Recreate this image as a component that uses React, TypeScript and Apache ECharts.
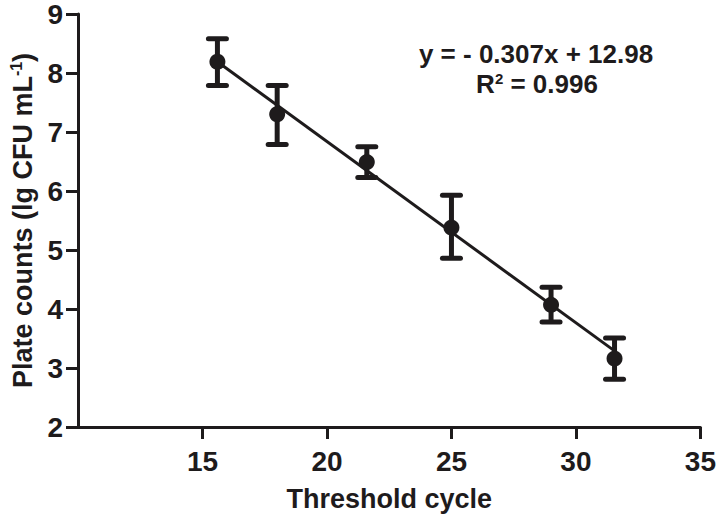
import React, { useEffect, useRef } from "react";
import * as echarts from "echarts";

const xValues = [15.6, 18.0, 21.6, 25.0, 29.0, 31.55];
const yValues = [8.19, 7.3, 6.49, 5.38, 4.07, 3.16];
const errUpper = [8.58, 7.79, 6.75, 5.93, 4.37, 3.51];
const errLower = [7.79, 6.79, 6.23, 4.86, 3.78, 2.81];
const fitX = [15.6, 31.55];
const fitY = [8.19, 3.29];
const xTicks = [15, 20, 25, 30, 35];
const yTicks = [2, 3, 4, 5, 6, 7, 8, 9];
const equationText = "y = - 0.307x + 12.98";
const r2Value = "0.996";

const INK = "#1e1b1c";
const FONT = "Liberation Sans, Arial, sans-serif";

export default function App() {
  const ref = useRef<HTMLDivElement>(null);
  useEffect(() => {
    if (!ref.current) return;
    const chart = echarts.init(ref.current, null, { renderer: "svg" });
    const points = xValues.map((x, i) => [x, yValues[i]]);
    const bars = xValues.map((x, i) => [x, errLower[i], errUpper[i]]);
    const fit = fitX.map((x, i) => [x, fitY[i]]);
    chart.setOption({
      animation: false,
      backgroundColor: "#ffffff",
      grid: { left: 77, right: 16, top: 12, bottom: 88 },
      xAxis: {
        type: "value",
        min: 10,
        max: 35,
        interval: 5,
        splitLine: { show: false },
        axisLine: { lineStyle: { color: INK, width: 3 } },
        axisTick: { show: true, length: 12, lineStyle: { color: INK, width: 3 }, customValues: xTicks },
        axisLabel: {
          customValues: xTicks,
          margin: 20,
          color: INK,
          fontSize: 28,
          fontWeight: "bold",
          fontFamily: FONT,
        },
        name: "Threshold cycle",
        nameLocation: "middle",
        nameGap: 58,
        nameTextStyle: { color: INK, fontSize: 27, fontWeight: "bold", fontFamily: FONT },
      },
      yAxis: {
        type: "value",
        min: 2,
        max: 9,
        interval: 1,
        splitLine: { show: false },
        axisLine: { show: true, lineStyle: { color: INK, width: 3 } },
        axisTick: { show: true, length: 12, lineStyle: { color: INK, width: 3 }, customValues: yTicks },
        axisLabel: {
          customValues: yTicks,
          margin: 15,
          color: INK,
          fontSize: 28,
          fontWeight: "bold",
          fontFamily: FONT,
        },
        name: "Plate counts (lg CFU mL{sup|-1})",
        nameLocation: "middle",
        nameGap: 40,
        nameTextStyle: {
          color: INK,
          fontSize: 27,
          fontWeight: "bold",
          fontFamily: FONT,
          rich: {
            sup: { fontSize: 16, fontWeight: "bold", fontFamily: FONT, color: INK, verticalAlign: "top", padding: [0, 0, 14, 0] },
          },
        },
      },
      series: [
        {
          type: "line",
          data: fit,
          symbol: "none",
          lineStyle: { color: INK, width: 3 },
          z: 2,
        },
        {
          type: "custom",
          data: bars,
          z: 3,
          renderItem: (params: any, api: any) => {
            const x = api.value(0);
            const top = api.coord([x, api.value(2)]);
            const bot = api.coord([x, api.value(1)]);
            const cap = 9;
            const st = { stroke: INK, lineWidth: 5, lineCap: "round" };
            return {
              type: "group",
              children: [
                { type: "line", shape: { x1: top[0], y1: top[1], x2: bot[0], y2: bot[1] }, style: { stroke: INK, lineWidth: 5 } },
                { type: "line", shape: { x1: top[0] - cap, y1: top[1], x2: top[0] + cap, y2: top[1] }, style: st },
                { type: "line", shape: { x1: bot[0] - cap, y1: bot[1], x2: bot[0] + cap, y2: bot[1] }, style: st },
              ],
            };
          },
        },
        {
          type: "scatter",
          data: points,
          symbol: "circle",
          symbolSize: 16,
          itemStyle: { color: INK, opacity: 1 },
          z: 4,
        },
      ],
      graphic: [
        {
          type: "text",
          x: 536,
          y: 54,
          style: { text: equationText, fontSize: 26, fontWeight: "bold", fontFamily: FONT, fill: INK, align: "center", verticalAlign: "middle" },
        },
        {
          type: "text",
          x: 537,
          y: 84,
          style: {
            text: "R{sup|2} = " + r2Value,
            fontSize: 26,
            fontWeight: "bold",
            fontFamily: FONT,
            fill: INK,
            align: "center",
            verticalAlign: "middle",
            rich: {
              r: { fontSize: 26, fontWeight: "bold", fontFamily: FONT, fill: INK },
              sup: { fontSize: 15, fontWeight: "bold", fontFamily: FONT, fill: INK, verticalAlign: "top", padding: [0, 0, 12, 0] },
            },
          },
        },
      ],
    });
    return () => chart.dispose();
  }, []);
  return <div ref={ref} style={{ width: 719, height: 517, position: "absolute", left: 0, top: 0 }} />;
}
